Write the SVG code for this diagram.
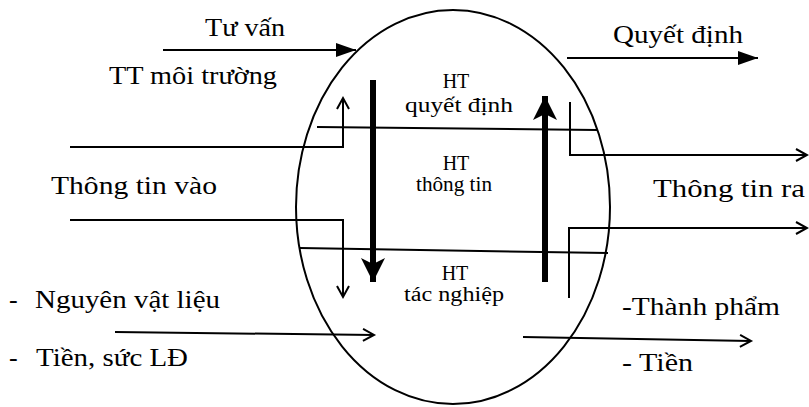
<svg xmlns="http://www.w3.org/2000/svg" width="809" height="407" viewBox="0 0 809 407">
  <style>
    .line { fill: none; stroke: #000; stroke-width: 2; }
    .thick { fill: none; stroke: #000; stroke-width: 6; }
    text { font-family: "Liberation Serif", "DejaVu Serif", serif; fill: #000; }
    .big { font-size: 26px; }
    .small { font-size: 20px; text-anchor: middle; }
  </style>
  <defs>
    <marker id="open" markerUnits="userSpaceOnUse" markerWidth="16" markerHeight="16" refX="13" refY="8" orient="auto">
      <path d="M2,2 L13,8 L2,14" fill="none" stroke="#000" stroke-width="2"/>
    </marker>
    <marker id="solid" markerUnits="userSpaceOnUse" markerWidth="22" markerHeight="18" refX="20" refY="9" orient="auto">
      <path d="M0,2 L20,9 L0,16 Z" fill="#000"/>
    </marker>
    <marker id="bold" markerUnits="userSpaceOnUse" markerWidth="26" markerHeight="28" refX="24" refY="13" orient="auto">
      <path d="M0,1 L24,13 L0,25 L6,13 Z" fill="#000"/>
    </marker>
  </defs>

  <!-- the enterprise as a system -->
  <g id="system">
    <ellipse cx="453" cy="207" rx="157" ry="197" fill="none" stroke="#000" stroke-width="2"/>
  </g>

  <g id="connectors">
    <line class="line" x1="163" y1="50" x2="356" y2="50" marker-end="url(#solid)"/>
    <polyline class="line" points="70,147 343,147 343,98" marker-end="url(#open)"/>
    <line class="line" x1="317" y1="127" x2="597" y2="130"/>
    <line class="thick" x1="373" y1="80" x2="373" y2="282" marker-end="url(#bold)"/>
    <line class="thick" x1="545" y1="282" x2="545" y2="96" marker-end="url(#bold)"/>
    <polyline class="line" points="570,102 570,155 807,155" marker-end="url(#open)"/>
    <polyline class="line" points="569,298 569,228 807,228" marker-end="url(#open)"/>
    <polyline class="line" points="70,220 343,220 343,297" marker-end="url(#open)"/>
    <line class="line" x1="300" y1="248" x2="608" y2="253"/>
    <line class="line" x1="115" y1="332" x2="374" y2="335" marker-end="url(#open)"/>
    <line class="line" x1="523" y1="337" x2="751" y2="341" marker-end="url(#open)"/>
    <line class="line" x1="567" y1="58" x2="758" y2="58" marker-end="url(#solid)"/>
  </g>

  <g id="decision">
    <text class="small" x="456" y="88">HT</text>
    <text class="small" x="459" y="112" textLength="108" lengthAdjust="spacingAndGlyphs">quyết định</text>
  </g>
  <g id="information">
    <text class="small" x="456" y="170">HT</text>
    <text class="small" x="454" y="191" textLength="76" lengthAdjust="spacingAndGlyphs">thông tin</text>
  </g>
  <g id="operation">
    <text class="small" x="455" y="280">HT</text>
    <text class="small" x="454" y="301" textLength="100" lengthAdjust="spacingAndGlyphs">tác nghiệp</text>
  </g>

  <g id="labels">
    <text class="big" x="205" y="36" textLength="80" lengthAdjust="spacingAndGlyphs">Tư vấn</text>
    <text class="big" x="109" y="84" textLength="168" lengthAdjust="spacingAndGlyphs">TT môi trường</text>
    <text class="big" x="51" y="194" textLength="166" lengthAdjust="spacingAndGlyphs">Thông tin vào</text>
    <text class="big" x="613" y="43" textLength="130" lengthAdjust="spacingAndGlyphs">Quyết định</text>
    <text class="big" x="653" y="197" textLength="152" lengthAdjust="spacingAndGlyphs">Thông tin ra</text>
    <text class="big" y="308"><tspan x="9">-</tspan><tspan x="35" textLength="185" lengthAdjust="spacingAndGlyphs">Nguyên vật liệu</tspan></text>
    <text class="big" y="366"><tspan x="9">-</tspan><tspan x="36" textLength="152" lengthAdjust="spacingAndGlyphs">Tiền, sức LĐ</tspan></text>
    <text class="big" x="622" y="315" textLength="158" lengthAdjust="spacingAndGlyphs">-Thành phẩm</text>
    <text class="big" x="622" y="371" textLength="71" lengthAdjust="spacingAndGlyphs">- Tiền</text>
  </g>
</svg>
